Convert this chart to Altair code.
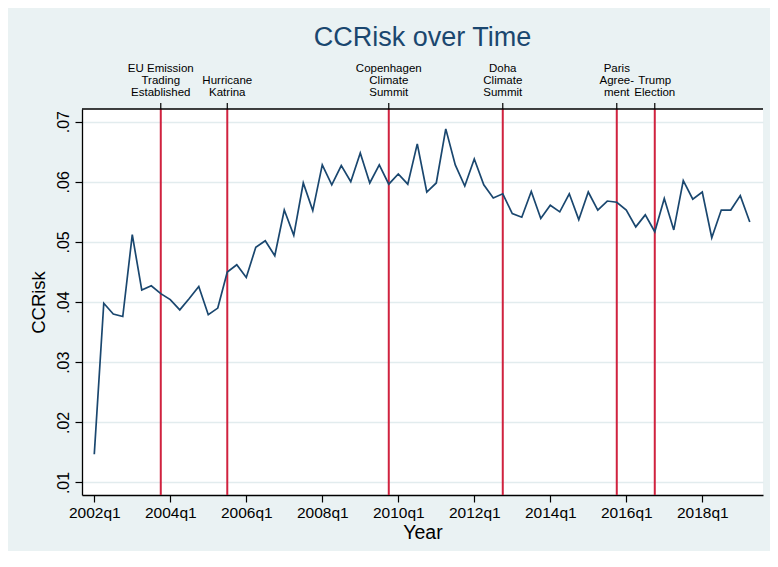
import altair as alt
import pandas as pd

# CCRisk quarterly values, 2002q1 .. 2019q2
ccrisk = [
    0.0147, 0.0398, 0.0380, 0.0376, 0.0512, 0.0420, 0.0427, 0.0414, 0.0404, 0.0387,
    0.0406, 0.0426, 0.0379, 0.0390, 0.0450, 0.0462, 0.0441, 0.0491, 0.0502, 0.0477,
    0.0553, 0.0511, 0.0598, 0.0552, 0.0628, 0.0595, 0.0627, 0.0600, 0.0648, 0.0598,
    0.0628, 0.0596, 0.0613, 0.0596, 0.0663, 0.0583, 0.0598, 0.0688, 0.0628, 0.0593,
    0.0638, 0.0595, 0.0573, 0.0580, 0.0547, 0.0541, 0.0584, 0.0539, 0.0561, 0.0550,
    0.0580, 0.0537, 0.0583, 0.0553, 0.0568, 0.0566, 0.0553, 0.0525, 0.0545, 0.0517,
    0.0572, 0.0520, 0.0602, 0.0571, 0.0583, 0.0507, 0.0553, 0.0553, 0.0577, 0.0533,
]
start_year = 2002
x_tick_years = [2002, 2004, 2006, 2008, 2010, 2012, 2014, 2016, 2018]
y_tick_values = [0.01, 0.02, 0.03, 0.04, 0.05, 0.06, 0.07]

event_labels = [
    "EU Emission\nTrading\nEstablished",
    "Hurricane\nKatrina",
    "Copenhagen\nClimate\nSummit",
    "Doha\nClimate\nSummit",
    "Paris\nAgree-\nment",
    "Trump\nElection",
]
event_quarters = ["2003q4", "2005q3", "2009q4", "2012q4", "2015q4", "2016q4"]


def qnum(q):
    y, qq = q.split("q")
    return int(y) + (int(qq) - 1) / 4


t = [start_year + i / 4 for i in range(len(ccrisk))]
df = pd.DataFrame({"t": t, "ccrisk": ccrisk})
ev = pd.DataFrame({
    "t": [qnum(q) for q in event_quarters],
    "label": event_labels,
    "nlines": [s.count("\n") + 1 for s in event_labels],
})
one = pd.DataFrame({"a": [0]})

W, H = 681, 386
FONT = "Liberation Sans"
NAVY = "#1a476f"
RED = "#d0223f"
BG = "#eaf2f3"

xs = alt.Scale(domain=[2001.677, 2019.598], nice=False, zero=False)
ys = alt.Scale(domain=[0.00792, 0.0721], nice=False, zero=False)

x_axis = alt.Axis(
    values=x_tick_years,
    labelExpr="datum.value + 'q1'",
    title="Year",
    titleFontSize=19.5,
    grid=False,
    labelPadding=3,
    titlePadding=3,
)


def X():
    return alt.X("t:Q", scale=xs, axis=x_axis)


vlines = alt.Chart(ev).mark_rule(color=RED, strokeWidth=2).encode(x=X())

line = alt.Chart(df).mark_line(color=NAVY, strokeWidth=1.7).encode(
    x=X(),
    y=alt.Y(
        "ccrisk:Q",
        scale=ys,
        axis=alt.Axis(
            values=y_tick_values,
            labelExpr="replace(format(datum.value, '.2f'), '0.', '.')",
            title="CCRisk",
            titleFontSize=18.5,
            labelAngle=270,
            labelAlign="center",
            labelBaseline="bottom",
            labelFontSize=16,
            labelPadding=4,
            titlePadding=7,
            grid=True,
            gridColor="#e2ecee",
            gridWidth=1.5,
        ),
    ),
)

top_ticks = alt.Chart(ev).mark_rule(color="black", strokeWidth=1.2).encode(
    x=X(), y=alt.value(-6), y2=alt.value(0)
)

top_border = alt.Chart(one).mark_rule(color="black", strokeWidth=1.3).encode(
    x=alt.value(0), x2=alt.value(W), y=alt.value(0)
)


def ev_text(n, ypix):
    return alt.Chart(ev).transform_filter(f"datum.nlines == {n}").mark_text(
        lineBreak="\n", baseline="bottom", align="center", font=FONT, fontSize=11.5,
        lineHeight=12, color="black"
    ).encode(x=X(), y=alt.value(ypix), text="label:N")


title = alt.Chart(one).mark_text(
    font=FONT, fontSize=27, color=NAVY, baseline="middle", align="center"
).encode(x=alt.value(W / 2), y=alt.value(-71), text=alt.value("CCRisk over Time"))

chart = (
    alt.layer(vlines, line, top_ticks, top_border,
              ev_text(3, -35), ev_text(2, -23), title)
    .properties(
        width=W,
        height=H,
        autosize="none",
        padding={"left": 74, "top": 101, "right": 7, "bottom": 56},
        background=BG,
    )
    .configure_view(stroke=None, fill="white")
    .configure_axis(
        domainColor="black",
        domainWidth=1.3,
        tickColor="black",
        tickSize=7,
        tickWidth=1.2,
        labelFont=FONT,
        labelFontSize=15.5,
        labelColor="black",
        titleFont=FONT,
        titleFontWeight="normal",
        titleColor="black",
    )
)

chart.save("out.html", embed_options={"renderer": "svg", "actions": False})
